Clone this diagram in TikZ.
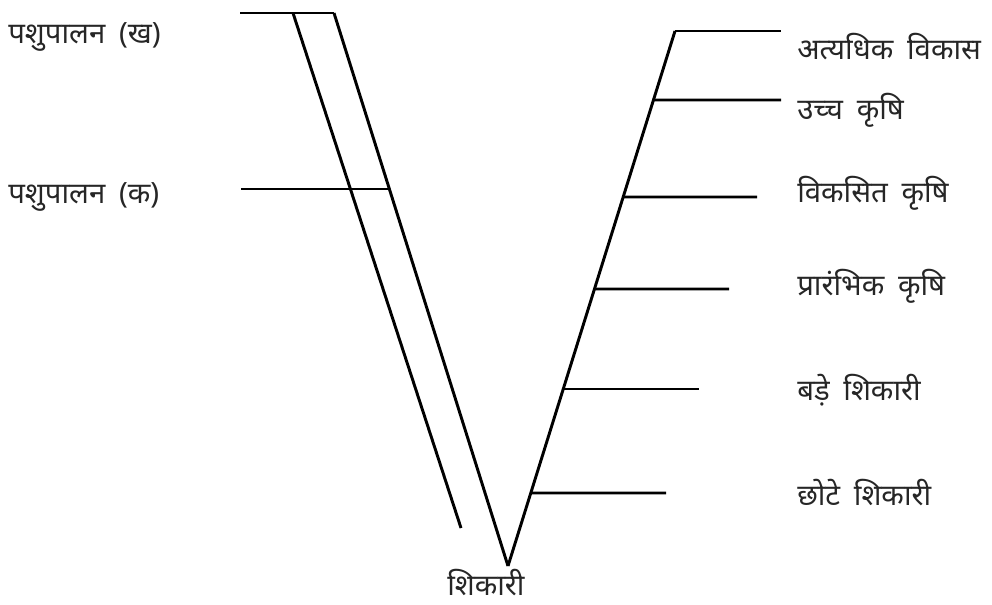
\documentclass[tikz,border=0pt]{standalone}
\usepackage{fontspec}
\usetikzlibrary{calc}
\newfontfamily\deva[Script=Devanagari,WordSpace=1.8]{Noto Sans}
\begin{document}
\begin{tikzpicture}[x=0.75pt,y=-0.75pt,
  ln/.style={line width=2.2pt,black},
  lbl/.style={anchor=base west,inner sep=0pt,text=black!85,font=\deva\fontsize{22}{26}\selectfont}]
\useasboundingbox (0,0) rectangle (992,604);
% points
\coordinate (kA) at (240,13);
\coordinate (kB) at (293,13);
\coordinate (kC) at (334,13);
\coordinate (kEnd) at (461,528);
\coordinate (tip) at (508,566);
\coordinate (top) at (675,31);
\coordinate (hkL) at (241,189);
\coordinate (hkR) at (390,189);
% left lines
\draw[ln] (kA) -- (kC);
\draw[ln] (kB) -- (kEnd);
\draw[ln] (kC) -- (tip);
\draw[ln] (hkL) -- (hkR);
% right line
\draw[ln] (tip) -- (top);
\coordinate (r1e) at (781,31);
\draw[ln] (top) -- (r1e);
\foreach \n/\y/\xe in {2/100/781,3/197/757,4/289/729,5/389/699,6/493/666}{
  \coordinate (r\n s) at ($(tip)!{(566-\y)/(566-31)}!(top)$);
  \coordinate (r\n e) at (\xe,\y);
  \draw[ln] (r\n s) -- (r\n e);
}
% labels
\node[lbl] (l1) at (797,59) {अत्यधिक विकास};
\node[lbl] (l2) at (797,119) {उच्च कृषि};
\node[lbl] (l3) at (797,202) {विकसित कृषि};
\node[lbl] (l4) at (797,295) {प्रारंभिक कृषि};
\node[lbl] (l5) at (797,400) {बड़े शिकारी};
\node[lbl] (l6) at (797,505) {छोटे शिकारी};
\node[lbl] (lk) at (8,43) {पशुपालन (ख)};
\node[lbl] (lq) at (8,203) {पशुपालन (क)};
\node[lbl] (ls) at (447,595) {शिकारी};
\end{tikzpicture}
\end{document}
